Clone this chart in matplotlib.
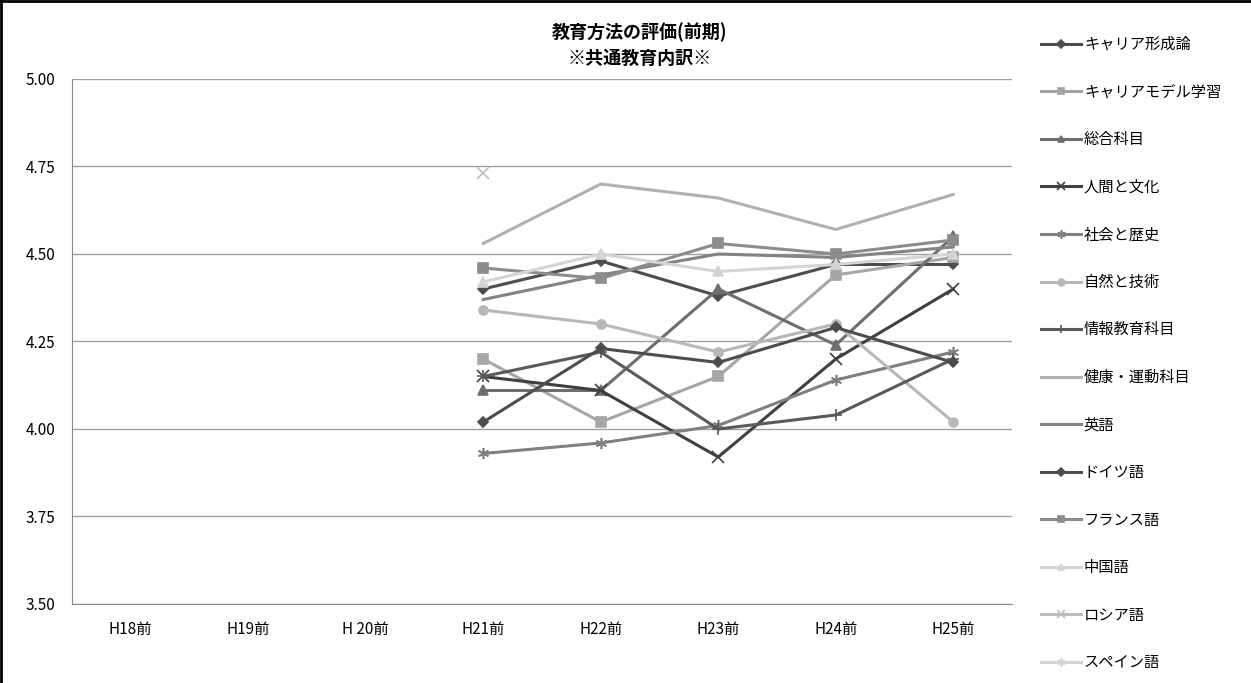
import numpy as np
import matplotlib.pyplot as plt
from matplotlib.lines import Line2D

plt.rcParams['font.family'] = ['Noto Sans CJK JP', 'DejaVu Sans']

nan = np.nan
categories = ['H18前', 'H19前', 'H 20前', 'H21前', 'H22前', 'H23前', 'H24前', 'H25前']

career_keisei = [nan, nan, nan, 4.40, 4.48, 4.38, 4.47, 4.47]
career_model = [nan, nan, nan, 4.20, 4.02, 4.15, 4.44, 4.49]
sougou = [nan, nan, nan, 4.11, 4.11, 4.40, 4.24, 4.55]
ningen = [nan, nan, nan, 4.15, 4.11, 3.92, 4.20, 4.40]
shakai = [nan, nan, nan, 3.93, 3.96, 4.01, 4.14, 4.22]
shizen = [nan, nan, nan, 4.34, 4.30, 4.22, 4.30, 4.02]
jouhou = [nan, nan, nan, 4.15, 4.22, 4.00, 4.04, 4.20]
kenkou = [nan, nan, nan, 4.53, 4.70, 4.66, 4.57, 4.67]
eigo = [nan, nan, nan, 4.37, 4.44, 4.50, 4.49, 4.52]
doitsu = [nan, nan, nan, 4.02, 4.23, 4.19, 4.29, 4.19]
furansu = [nan, nan, nan, 4.46, 4.43, 4.53, 4.50, 4.54]
chugoku = [nan, nan, nan, 4.42, 4.50, 4.45, 4.47, 4.50]
roshia = [nan, nan, nan, 4.73, nan, nan, nan, nan]
supein = [nan, nan, nan, nan, nan, nan, nan, nan]

series = [
    ('キャリア形成論', career_keisei, '#4d4d4d', 'D'),
    ('キャリアモデル学習', career_model, '#a6a6a6', 's'),
    ('総合科目', sougou, '#6e6e6e', '^'),
    ('人間と文化', ningen, '#404040', 'x'),
    ('社会と歴史', shakai, '#808080', (6, 2, 0)),
    ('自然と技術', shizen, '#b8b8b8', 'o'),
    ('情報教育科目', jouhou, '#5a5a5a', '+'),
    ('健康・運動科目', kenkou, '#b0b0b0', None),
    ('英語', eigo, '#838383', None),
    ('ドイツ語', doitsu, '#4d4d4d', 'D'),
    ('フランス語', furansu, '#8c8c8c', 's'),
    ('中国語', chugoku, '#d4d4d4', '^'),
    ('ロシア語', roshia, '#bdbdbd', 'x'),
    ('スペイン語', supein, '#d4d4d4', (6, 2, 0)),
]

fig = plt.figure(figsize=(12.51, 6.83), dpi=100)
ax = fig.add_axes([72 / 1251, 1 - 604 / 683, 940 / 1251, 525 / 683])

x = np.arange(len(categories))
for name, vals, col, mk in series:
    ms = 6.5
    if mk == 'D':
        ms = 5.5
    elif mk in ('x', '+') or isinstance(mk, tuple):
        ms = 8
    ax.plot(x, vals, color=col, marker=mk, markersize=ms, linewidth=2.2,
            markeredgewidth=1.2, label=name)

ax.set_xlim(-0.5, len(categories) - 0.5)
ax.set_ylim(3.5, 5.0)
ax.set_yticks([3.5, 3.75, 4.0, 4.25, 4.5, 4.75, 5.0])
ax.set_yticklabels(['3.50', '3.75', '4.00', '4.25', '4.50', '4.75', '5.00'])
ax.set_xticks(x)
ax.set_xticklabels(categories)
ax.tick_params(length=0, labelsize=11, pad=12)
ax.tick_params(axis='y', pad=12)
ax.grid(axis='y', color='#a0a0a0', linewidth=1)
ax.set_axisbelow(True)
for s in ['top', 'right']:
    ax.spines[s].set_visible(False)
ax.spines['left'].set_color('#888888')
ax.spines['bottom'].set_color('#888888')

fig.text(640 / 1251, 1 - 45 / 683, '教育方法の評価(前期)\n※共通教育内訳※', ha='center',
         va='center', fontsize=13, fontweight='bold', linespacing=1.4)

fig.legend(loc='upper left', bbox_to_anchor=(1035 / 1251, 1 - 30 / 683),
           frameon=False, fontsize=11, labelspacing=2.0, handlelength=2.6,
           handletextpad=0.2, borderaxespad=0, markerscale=0.75)

# outer frame
fig.add_artist(Line2D([0.001, 0.001], [0, 1], transform=fig.transFigure, color='black', linewidth=2))
fig.add_artist(Line2D([0, 1], [0.999, 0.999], transform=fig.transFigure, color='black', linewidth=2))

fig.savefig('out.png', dpi=100)
